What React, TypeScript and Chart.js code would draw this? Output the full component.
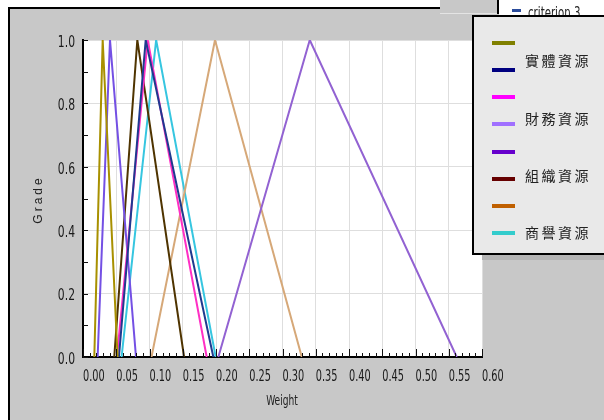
import { useEffect, useRef } from 'react';
import { Chart, registerables } from 'chart.js';

Chart.register(...registerables);

// ---- data (triangular fuzzy weights: low, mid, high) ----
const legendLabels = ['', '實體資源', '', '財務資源', '', '組織資源', '', '商譽資源'];
const lowValues = [0.017, 0.054, 0.051, 0.2035, 0.022, 0.047, 0.103, 0.058];
const midValues = [0.0296, 0.0943, 0.0973, 0.341, 0.0406, 0.0817, 0.1985, 0.11];
const highValues = [0.052, 0.196, 0.186, 0.562, 0.0797, 0.152, 0.329, 0.1995];
const gradeValues = [0, 1, 0];
const lineColors = ['#a89000', '#1f3a8f', '#ff2fc4', '#9262d2', '#7450e4', '#4f3400', '#d6a878', '#36c6e0'];
const swatchColors = ['#808000', '#000080', '#ff00ff', '#a070ff', '#6600cc', '#660000', '#c06000', '#33cccc'];
const xMin = 0;
const xMax = 0.6;
const xStep = 0.05;
const yMin = 0;
const yMax = 1;
const yStep = 0.2;
const xTitle = 'Weight';
const yTitle = 'Grade';
const hiddenLegendLabel = 'criterion 3';

const W = 604;
const H = 420;
const SANS = '"DejaVu Sans", "Liberation Sans", sans-serif';

function condensedText(ctx: any, text: string, x: number, y: number, sx: number, align: string) {
  ctx.save();
  ctx.translate(x, y);
  ctx.scale(sx, 1);
  ctx.textAlign = align;
  ctx.fillText(text, 0, 0);
  ctx.restore();
}

const decor = {
  id: 'decor',
  beforeDraw(chart: any) {
    const { ctx, chartArea: a } = chart;
    ctx.save();
    ctx.fillStyle = '#ffffff';
    ctx.fillRect(0, 0, W, H);
    ctx.fillStyle = '#c8c8c8';
    ctx.fillRect(8, 7, W - 8, H - 7);
    ctx.fillStyle = '#000';
    ctx.fillRect(8, 7, 432, 2);
    ctx.fillRect(8, 7, 2, H - 7);
    ctx.fillStyle = '#ffffff';
    ctx.fillRect(a.left, a.top, a.right - a.left, a.bottom - a.top);
    ctx.restore();
  },
  afterDraw(chart: any) {
    const { ctx, chartArea: a, scales } = chart;
    const xs = scales.x;
    const ys = scales.y;
    ctx.save();
    // tick marks (inward)
    ctx.strokeStyle = '#111';
    ctx.lineWidth = 1;
    ctx.beginPath();
    const nx = Math.round((xMax - xMin) / 0.01);
    for (let i = 0; i <= nx; i++) {
      const px = Math.round(xs.getPixelForValue(xMin + i * 0.01)) + 0.5;
      const len = i % 5 === 0 ? 8 : 4;
      ctx.moveTo(px, a.bottom);
      ctx.lineTo(px, a.bottom - len);
    }
    const ny = Math.round((yMax - yMin) / 0.1);
    for (let i = 0; i <= ny; i++) {
      const py = Math.round(ys.getPixelForValue(yMin + i * 0.1)) + 0.5;
      ctx.moveTo(a.left, py);
      ctx.lineTo(a.left + 5, py);
    }
    ctx.stroke();

    // tick labels from the scales' ticks
    ctx.fillStyle = '#1a1a1a';
    ctx.font = '15px ' + SANS;
    ctx.textBaseline = 'middle';
    xs.ticks.forEach((t: any) => {
      const px = xs.getPixelForValue(t.value);
      condensedText(ctx, Number(t.value).toFixed(2), px, 377, 0.65, 'left');
    });
    ys.ticks.forEach((t: any) => {
      const py = ys.getPixelForValue(t.value);
      condensedText(ctx, Number(t.value).toFixed(1), a.left - 8, py + 3, 0.72, 'right');
    });

    // axis titles
    ctx.fillStyle = '#222';
    ctx.font = '14px ' + SANS;
    condensedText(ctx, xTitle, 282, 401, 0.65, 'center');
    ctx.save();
    ctx.translate(39, 201);
    ctx.rotate(-Math.PI / 2);
    ctx.font = '12px "Liberation Sans", Arial, sans-serif';
    ctx.textAlign = 'center';
    (ctx as any).letterSpacing = '3px';
    ctx.fillText(yTitle, 1.5, 0);
    ctx.restore();

    // top-right partial panel
    ctx.fillStyle = '#c8c8c8';
    ctx.fillRect(440, 0, 58, 13);
    ctx.fillStyle = '#e4e4e4';
    ctx.fillRect(440, 13, 58, 1);
    ctx.fillStyle = '#ffffff';
    ctx.fillRect(499, 0, W - 499, 15);
    ctx.fillStyle = '#000';
    ctx.fillRect(497, 0, 2, 14);
    ctx.fillStyle = '#2b4c9c';
    ctx.fillRect(512, 9, 9, 3);
    ctx.fillStyle = '#222';
    ctx.font = '15px ' + SANS;
    ctx.textBaseline = 'alphabetic';
    condensedText(ctx, hiddenLegendLabel, 528, 18, 0.68, 'left');

    // legend box
    const lx = 472;
    const ly = 15;
    const lb = 255;
    ctx.fillStyle = '#b4b4b4';
    ctx.fillRect(lx + 10, lb, W - lx, 5);
    ctx.fillStyle = '#e9e9e9';
    ctx.fillRect(lx, ly, W - lx + 4, lb - ly);
    ctx.strokeStyle = '#000';
    ctx.lineWidth = 2;
    ctx.strokeRect(lx + 1, ly + 1, W - lx + 4, lb - ly - 2);

    const ds = chart.data.datasets;
    ctx.font = '14px "Noto Sans CJK TC", sans-serif';
    (ctx as any).letterSpacing = '2.5px';
    ctx.textBaseline = 'middle';
    ctx.textAlign = 'left';
    for (let i = 0; i < ds.length; i++) {
      const sy = ly + 27.7 + i * 27.2;
      ctx.fillStyle = ds[i].swatchColor;
      ctx.fillRect(492, Math.round(sy) - 2, 23, 4);
      if (ds[i].label) {
        const ty = ly + 46 + Math.floor(i / 2) * 57.2;
        ctx.fillStyle = '#222';
        ctx.fillText(ds[i].label, 525, ty);
      }
    }
    ctx.restore();
  },
};

export default function App() {
  const ref = useRef<HTMLCanvasElement | null>(null);
  useEffect(() => {
    document.body.style.margin = '0';
    const canvas = ref.current;
    if (!canvas) return;
    const datasets = legendLabels.map((label, i) => ({
      label,
      data: [lowValues[i], midValues[i], highValues[i]].map((x, j) => ({ x, y: gradeValues[j] })),
      borderColor: lineColors[i],
      backgroundColor: lineColors[i],
      swatchColor: swatchColors[i],
      borderWidth: 2,
      pointRadius: 0,
      tension: 0,
      fill: false,
    }));
    const chart = new Chart(canvas, {
      type: 'line',
      data: { datasets } as any,
      options: {
        animation: false,
        responsive: false,
        devicePixelRatio: 1,
        layout: { padding: { left: 0, top: 40, right: W - 482, bottom: 0 } },
        plugins: { legend: { display: false }, tooltip: { enabled: false } },
        scales: {
          x: {
            type: 'linear',
            min: xMin,
            max: xMax,
            afterFit: (s: any) => { s.height = H - 357; },
            grid: { color: '#dedede', lineWidth: 1, drawTicks: false },
            border: { display: true, color: '#000', width: 2 },
            ticks: { stepSize: xStep, autoSkip: false, maxRotation: 0, display: false },
          },
          y: {
            type: 'linear',
            min: yMin,
            max: yMax,
            afterFit: (s: any) => { s.width = 83; },
            grid: { color: '#dedede', lineWidth: 1, drawTicks: false },
            border: { display: true, color: '#000', width: 2 },
            ticks: { stepSize: yStep, display: false },
          },
        },
      } as any,
      plugins: [decor],
    });
    return () => chart.destroy();
  }, []);
  return <canvas ref={ref} width={W} height={H} style={{ display: 'block' }} />;
}
